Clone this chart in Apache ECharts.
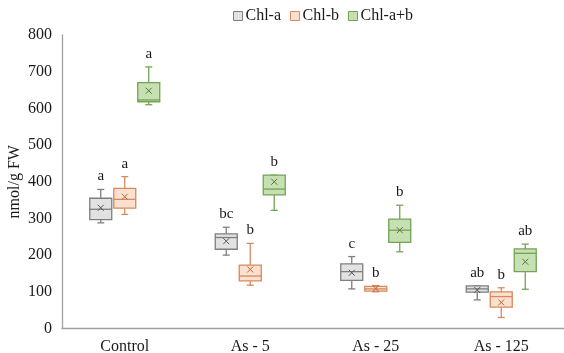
<!DOCTYPE html>
<html>
<head>
<meta charset="utf-8">
<script src="https://cdn.jsdelivr.net/npm/echarts@6/dist/echarts.min.js"></script>
<style>html,body{margin:0;padding:0;background:#fff}#c{width:564px;height:353px}</style>
</head>
<body>
<div id="c"></div>
<script>
const categories = ['Control', 'As - 5', 'As - 25', 'As - 125'];
const yTicks = [0, 100, 200, 300, 400, 500, 600, 700, 800];
// each row: [min, q1, median, q3, max, mean]
const chlA = [[288, 297, 325, 355, 379, 329], [200, 216, 248, 258, 276, 238], [108, 131, 155, 176, 196, 152], [78, 99, 108, 116, 116, 105]];
const chlB = [[311, 328, 352, 382, 414, 359], [118, 130, 143, 173, 232, 161], [100, 102, 108, 115, 117, 109], [30, 58, 87, 100, 111, 71]];
const chlAB = [[610, 618, 623, 670, 713, 648], [322, 364, 380, 418, 418, 400], [209, 235, 268, 298, 336, 268], [107, 155, 205, 217, 230, 182]];
const lettersA = ['a', 'bc', 'c', 'ab'];
const lettersB = ['a', 'b', 'b', 'b'];
const lettersAB = ['a', 'b', 'b', 'ab'];
const seriesNames = ['Chl-a', 'Chl-b', 'Chl-a+b'];

const FONT = '"Liberation Serif", "Times New Roman", serif';
const styles = [
  { stroke: '#7f7f7f', fill: '#e2e2e2', mark: '#555555' },
  { stroke: '#d68a5e', fill: '#fbe0cf', mark: '#b8673a' },
  { stroke: '#73a354', fill: '#c6e0b4', mark: '#4d7d34' }
];
const offsets = [-24, 0, 24];

function makeSeries(idx, data, letters) {
  const st = styles[idx];
  const off = offsets[idx];
  return {
    type: 'custom',
    name: seriesNames[idx],
    data: data.map((d, i) => [i].concat(d)),
    encode: { x: 0, y: [1, 2, 3, 4, 5, 6] },
    itemStyle: { color: st.fill, borderColor: st.stroke, borderWidth: 1 },
    renderItem: function (params, api) {
      const c = api.value(0);
      const x = api.coord([c, 0])[0] + off;
      const y = k => api.coord([c, api.value(k)])[1];
      const yMin = y(1), yQ1 = y(2), yMed = y(3), yQ3 = y(4), yMax = y(5), yMean = y(6);
      const w = 22, cap = 7, m = 3;
      const ls = { stroke: st.stroke, lineWidth: 1.3 };
      return {
        type: 'group',
        children: [
          { type: 'line', shape: { x1: x, y1: yMax, x2: x, y2: yQ3 }, style: ls },
          { type: 'line', shape: { x1: x, y1: yQ1, x2: x, y2: yMin }, style: ls },
          { type: 'line', shape: { x1: x - cap / 2, y1: yMax, x2: x + cap / 2, y2: yMax }, style: ls },
          { type: 'line', shape: { x1: x - cap / 2, y1: yMin, x2: x + cap / 2, y2: yMin }, style: ls },
          { type: 'rect', shape: { x: x - w / 2, y: yQ3, width: w, height: Math.max(1, yQ1 - yQ3) }, style: { fill: st.fill, stroke: st.stroke, lineWidth: 1.3 } },
          { type: 'line', shape: { x1: x - w / 2, y1: yMed, x2: x + w / 2, y2: yMed }, style: ls },
          { type: 'line', shape: { x1: x - m, y1: yMean - m, x2: x + m, y2: yMean + m }, style: { stroke: st.mark, lineWidth: 1 } },
          { type: 'line', shape: { x1: x - m, y1: yMean + m, x2: x + m, y2: yMean - m }, style: { stroke: st.mark, lineWidth: 1 } },
          { type: 'text', style: { text: letters[params.dataIndex], x: x, y: yMax - 13, align: 'center', verticalAlign: 'middle', font: '15px ' + FONT, fill: '#1a1a1a' } }
        ]
      };
    }
  };
}

const chart = echarts.init(document.getElementById('c'), null, { renderer: 'canvas' });
chart.setOption({
  animation: false,
  backgroundColor: '#ffffff',
  legend: {
    left: 228, top: 3,
    itemWidth: 9, itemHeight: 9, itemGap: 9,
    icon: 'rect',
    textStyle: { fontFamily: FONT, fontSize: 16, color: '#1a1a1a', padding: [0, 0, 0, -2] },
    data: seriesNames.map((n, i) => ({ name: n, itemStyle: { color: styles[i].fill, borderColor: styles[i].stroke, borderWidth: 1 } }))
  },
  grid: { left: 62, right: 0, top: 35, bottom: 24.5, containLabel: false, outerBoundsMode: 'none' },
  xAxis: {
    type: 'category',
    data: categories,
    axisLine: { lineStyle: { color: '#a0a0a0', width: 1.3 } },
    axisTick: { show: false },
    axisLabel: { fontFamily: FONT, fontSize: 16, color: '#1a1a1a', margin: 10 }
  },
  yAxis: {
    type: 'value',
    min: yTicks[0], max: yTicks[yTicks.length - 1], interval: 100,
    name: 'nmol/g FW', nameLocation: 'middle', nameGap: 39, nameRotate: 90,
    nameMoveOverlap: false,
    nameTextStyle: { fontFamily: FONT, fontSize: 16, color: '#1a1a1a' },
    axisLine: { show: true, lineStyle: { color: '#a0a0a0', width: 1.3 } },
    axisTick: { show: false },
    splitLine: { show: false },
    axisLabel: { fontFamily: FONT, fontSize: 16, color: '#1a1a1a', margin: 10 }
  },
  series: [makeSeries(0, chlA, lettersA), makeSeries(1, chlB, lettersB), makeSeries(2, chlAB, lettersAB)]
});
</script>
</body>
</html>
